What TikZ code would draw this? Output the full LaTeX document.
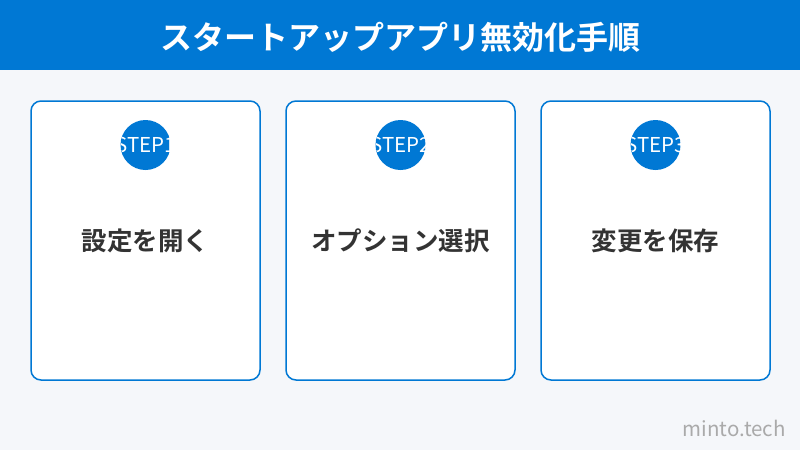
\documentclass[tikz,border=0pt]{standalone}
\usepackage{fontspec}
\setmainfont{Noto Sans CJK JP}
\newfontfamily\jpbold{Noto Sans CJK JP Bold}
\definecolor{hdr}{HTML}{0078D4}
\definecolor{bg}{HTML}{F5F7FA}
\definecolor{txt}{HTML}{333333}
\definecolor{wm}{HTML}{AAAAAA}
\tikzset{
  card/.style={draw=hdr, line width=1.5pt, fill=white, rounded corners=10pt},
  stepcirc/.style={fill=hdr, draw=none},
  steplabel/.style={text=white, font=\fontsize{20.5}{20.5}\selectfont, inner sep=0pt},
  cardtitle/.style={text=txt, font=\jpbold\fontsize{25.5}{25.5}\selectfont, inner sep=0pt},
}
\begin{document}
\begin{tikzpicture}[x=1pt,y=-1pt]
\useasboundingbox (0,0) rectangle (800,450);
\fill[bg] (0,0) rectangle (800,450);
\fill[hdr] (0,0) rectangle (800,70);
\node[text=white, font=\jpbold\fontsize{32}{32}\selectfont, inner sep=0pt] (title) at (400,37) {スタートアップアプリ無効化手順};
\foreach \i/\x/\t in {1/145.5/設定を開く, 2/400.5/オプション選択, 3/655.5/変更を保存}{
  \draw[card] (\x-114.5,101) rectangle (\x+114.5,380);
  \fill[stepcirc] (\x,145) circle (25);
  \begin{scope}
    \clip (\x,145) circle (25);
    \node[steplabel] (s\i) at (\x,145) {STEP\i};
  \end{scope}
  \node[cardtitle] (c\i) at (\x,241) {\t};
}
\node[text=wm, font=\fontsize{20.5}{20.5}\selectfont, inner sep=0pt, anchor=east] (wm) at (786,428) {minto.tech};
\end{tikzpicture}
\end{document}
